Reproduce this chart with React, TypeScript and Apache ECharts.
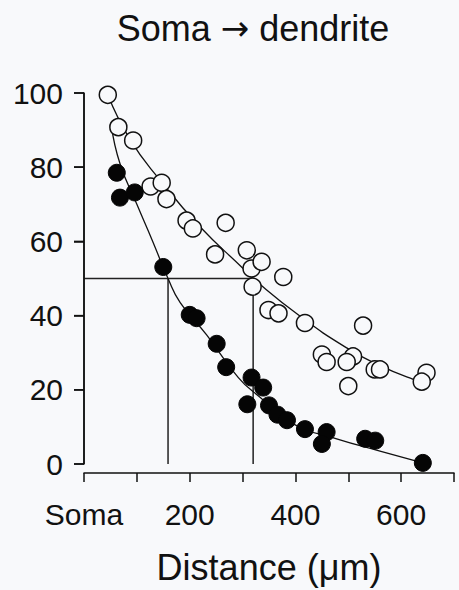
import React, { useEffect, useRef } from "react";
import * as echarts from "echarts";

// Open circles: distance (µm), % value
const openPoints: number[][] = [
  [45, 99.5], [65, 90.8], [93, 87.2], [126, 74.8], [147, 75.8], [156, 71.4],
  [194, 65.6], [206, 63.5], [248, 56.5], [268, 65], [308, 57.6], [317, 52.7],
  [336, 54.5], [319, 47.8], [377, 50.4], [349, 41.5], [368, 40.6], [418, 38],
  [528, 37.3], [450, 29.5], [459, 27.5], [509, 29], [497, 27.5], [500, 21],
  [550, 25.5], [560, 25.5], [648, 24.6], [639, 22.2],
];

// Filled circles
const filledPoints: number[][] = [
  [62, 78.5], [68, 71.8], [96, 73.2], [150, 53.1], [200, 40.2], [213, 39.3],
  [251, 32.4], [269, 26.1], [317, 23.3], [339, 20.6], [309, 16.1], [350, 15.8],
  [366, 13.3], [384, 11.8], [418, 9.4], [459, 8.6], [450, 5.4], [532, 6.8],
  [551, 6.3], [641, 0.3],
];

// Fitted curves
const openFit: number[][] = [
  [45, 99.5], [87, 87.5], [144, 76.5], [219, 64], [301, 52.7], [320, 50],
  [409, 39.8], [497, 31.3], [560, 26.5], [623, 22.8], [645, 22],
];
const filledFit: number[][] = [
  [52, 91], [68, 81], [100, 70], [130, 60], [159, 50], [182, 43.5],
  [232, 34.8], [292, 23.3], [333, 18], [396, 10.8], [478, 6.8], [560, 3.5],
  [641, 0.3],
];

// Half-value reference lines
const halfValue = 50;
const filledHalfDistance = 159;
const openHalfDistance = 320;

const xTicks = { min: 0, max: 700, interval: 100 };
const xLabelStep = 200;
const yTicks = { min: 0, max: 100, interval: 20 };
const yTickValues = [0, 20, 40, 60, 80, 100];
const titleFrom = "Soma";
const titleArrow = "\u2192";
const titleTo = "dendrite";
const xAxisName = "Distance (\u03bcm)";
const somaLabel = "Soma";

const FONT = "'Liberation Sans', Arial, Helvetica, sans-serif";
const INK = "#111111";
const BG = "#f8f9fb";

export default function App() {
  const ref = useRef<HTMLDivElement>(null);
  useEffect(() => {
    if (!ref.current) return;
    const chart = echarts.init(ref.current, null, { renderer: "svg" });
    chart.setOption({
      animation: false,
      backgroundColor: BG,
      title: {
        text: `{a|${titleFrom}} {b|${titleArrow}} {a|${titleTo}}`,
        left: 248,
        top: 5,
        textAlign: "center",
        textStyle: {
          fontFamily: FONT,
          fontSize: 36,
          fontWeight: "normal",
          color: INK,
          rich: {
            a: { fontFamily: FONT, fontSize: 36, color: INK },
            b: { fontFamily: "'DejaVu Sans', sans-serif", fontSize: 34, color: INK },
          },
        },
      },
      grid: { left: 84, right: 5, top: 93, bottom: 123 },
      xAxis: {
        type: "value",
        position: "bottom",
        min: xTicks.min,
        max: xTicks.max,
        interval: xTicks.interval,
        offset: 9,
        splitLine: { show: false },
        axisLine: { show: true, onZero: false, lineStyle: { color: INK, width: 1.5 } },
        axisTick: { show: true, length: 9, lineStyle: { color: INK, width: 1.5 } },
        axisLabel: {
          show: true,
          showMinLabel: true,
          showMaxLabel: true,
          hideOverlap: false,
          margin: 26,
          fontFamily: FONT,
          fontSize: 30,
          color: INK,
          formatter: (v: number) =>
            v === 0 ? somaLabel : v % xLabelStep === 0 && v < xTicks.max ? String(v) : "",
        },
        name: xAxisName,
        nameLocation: "middle",
        nameGap: 76,
        nameTextStyle: { fontFamily: FONT, fontSize: 36, color: INK },
      },
      yAxis: {
        type: "value",
        position: "left",
        min: yTicks.min,
        max: yTicks.max,
        interval: yTicks.interval,
        offset: 0,
        splitLine: { show: false },
        axisLine: { show: true, onZero: false, lineStyle: { color: INK, width: 1.5 } },
        axisTick: { show: true, length: 10, lineStyle: { color: INK, width: 1.5 } },
        axisLabel: { margin: 21, fontFamily: FONT, fontSize: 30, color: INK },
      },
      series: [
        // y axis line drawn as a data-space line (coincides with the axis line)
        {
          type: "line",
          clip: false,
          data: [
            [xTicks.min, yTicks.min],
            [xTicks.min, yTicks.max],
          ],
          symbol: "none",
          lineStyle: { color: INK, width: 1.5 },
          z: 5,
          silent: true,
        },
        // y axis ticks (coincide with the axis ticks)
        {
          type: "scatter",
          clip: false,
          data: yTickValues.map((v) => [xTicks.min, v]),
          symbol: "rect",
          symbolSize: [10, 1.5],
          symbolOffset: [-5, 0],
          itemStyle: { color: INK, opacity: 1 },
          z: 5,
          silent: true,
        },
        {
          type: "line",
          clip: false,
          data: [
            [0, halfValue],
            [openHalfDistance, halfValue],
            [openHalfDistance, 0],
          ],
          symbol: "none",
          lineStyle: { color: "#222", width: 1.5 },
          z: 1,
        },
        {
          type: "line",
          clip: false,
          data: [
            [filledHalfDistance, halfValue],
            [filledHalfDistance, 0],
          ],
          symbol: "none",
          lineStyle: { color: "#222", width: 1.5 },
          z: 1,
        },
        {
          type: "line",
          clip: false,
          data: openFit,
          smooth: true,
          symbol: "none",
          lineStyle: { color: INK, width: 1.3 },
          z: 2,
        },
        {
          type: "line",
          clip: false,
          data: filledFit,
          smooth: true,
          symbol: "none",
          lineStyle: { color: INK, width: 1.3 },
          z: 2,
        },
        {
          type: "scatter",
          clip: false,
          data: openPoints,
          symbol: "circle",
          symbolSize: 17,
          itemStyle: { color: BG, borderColor: INK, borderWidth: 1.5, opacity: 1 },
          z: 3,
        },
        {
          type: "scatter",
          clip: false,
          data: filledPoints,
          symbol: "circle",
          symbolSize: 17,
          itemStyle: { color: "#050505", borderColor: "#050505", borderWidth: 1, opacity: 1 },
          z: 4,
        },
      ],
    });

    return () => chart.dispose();
  }, []);
  return (
    <div
      ref={ref}
      style={{ position: "fixed", left: 0, top: 0, width: 459, height: 590, background: BG }}
    />
  );
}
